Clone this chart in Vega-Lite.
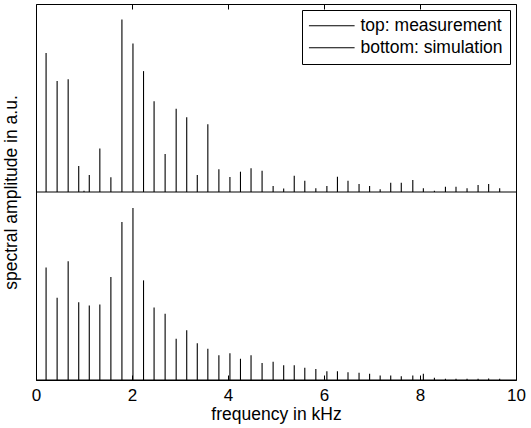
{
  "$schema": "https://vega.github.io/schema/vega-lite/v6.json",
  "width": 480,
  "height": 376,
  "autosize": {"type": "none"},
  "padding": {"left": 36, "top": 4, "right": 15, "bottom": 48},
  "background": "white",
  "config": {
    "view": {"stroke": "black", "strokeWidth": 1},
    "font": "Liberation Sans",
    "axis": {"grid": false, "domain": false, "tickColor": "black", "labelColor": "black", "titleColor": "black", "titleFontWeight": "normal"}
  },
  "datasets": {
    "spec": [
      {"s": "top", "f": 0.21, "v": 1.740, "b": 1},
      {"s": "top", "f": 0.44, "v": 1.590, "b": 1},
      {"s": "top", "f": 0.67, "v": 1.600, "b": 1},
      {"s": "top", "f": 0.89, "v": 1.138, "b": 1},
      {"s": "top", "f": 1.00, "v": 1.007, "b": 1},
      {"s": "top", "f": 1.11, "v": 1.090, "b": 1},
      {"s": "top", "f": 1.33, "v": 1.232, "b": 1},
      {"s": "top", "f": 1.56, "v": 1.078, "b": 1},
      {"s": "top", "f": 1.79, "v": 1.917, "b": 1},
      {"s": "top", "f": 2.02, "v": 1.790, "b": 1},
      {"s": "top", "f": 2.24, "v": 1.643, "b": 1},
      {"s": "top", "f": 2.46, "v": 1.483, "b": 1},
      {"s": "top", "f": 2.69, "v": 1.202, "b": 1},
      {"s": "top", "f": 2.92, "v": 1.443, "b": 1},
      {"s": "top", "f": 3.14, "v": 1.397, "b": 1},
      {"s": "top", "f": 3.36, "v": 1.090, "b": 1},
      {"s": "top", "f": 3.58, "v": 1.361, "b": 1},
      {"s": "top", "f": 3.81, "v": 1.121, "b": 1},
      {"s": "top", "f": 4.04, "v": 1.080, "b": 1},
      {"s": "top", "f": 4.26, "v": 1.108, "b": 1},
      {"s": "top", "f": 4.48, "v": 1.126, "b": 1},
      {"s": "top", "f": 4.71, "v": 1.113, "b": 1},
      {"s": "top", "f": 4.94, "v": 1.032, "b": 1},
      {"s": "top", "f": 5.16, "v": 1.018, "b": 1},
      {"s": "top", "f": 5.38, "v": 1.087, "b": 1},
      {"s": "top", "f": 5.60, "v": 1.060, "b": 1},
      {"s": "top", "f": 5.83, "v": 1.020, "b": 1},
      {"s": "top", "f": 6.06, "v": 1.032, "b": 1},
      {"s": "top", "f": 6.28, "v": 1.081, "b": 1},
      {"s": "top", "f": 6.50, "v": 1.060, "b": 1},
      {"s": "top", "f": 6.73, "v": 1.042, "b": 1},
      {"s": "top", "f": 6.95, "v": 1.032, "b": 1},
      {"s": "top", "f": 7.17, "v": 1.014, "b": 1},
      {"s": "top", "f": 7.39, "v": 1.049, "b": 1},
      {"s": "top", "f": 7.61, "v": 1.049, "b": 1},
      {"s": "top", "f": 7.85, "v": 1.064, "b": 1},
      {"s": "top", "f": 8.07, "v": 1.020, "b": 1},
      {"s": "top", "f": 8.30, "v": 1.007, "b": 1},
      {"s": "top", "f": 8.53, "v": 1.028, "b": 1},
      {"s": "top", "f": 8.75, "v": 1.028, "b": 1},
      {"s": "top", "f": 8.98, "v": 1.020, "b": 1},
      {"s": "top", "f": 9.21, "v": 1.037, "b": 1},
      {"s": "top", "f": 9.43, "v": 1.042, "b": 1},
      {"s": "top", "f": 9.66, "v": 1.020, "b": 1},
      {"s": "bottom", "f": 0.21, "v": 0.599, "b": 0},
      {"s": "bottom", "f": 0.44, "v": 0.437, "b": 0},
      {"s": "bottom", "f": 0.67, "v": 0.631, "b": 0},
      {"s": "bottom", "f": 0.89, "v": 0.413, "b": 0},
      {"s": "bottom", "f": 1.11, "v": 0.396, "b": 0},
      {"s": "bottom", "f": 1.33, "v": 0.401, "b": 0},
      {"s": "bottom", "f": 1.56, "v": 0.548, "b": 0},
      {"s": "bottom", "f": 1.79, "v": 0.840, "b": 0},
      {"s": "bottom", "f": 2.02, "v": 0.915, "b": 0},
      {"s": "bottom", "f": 2.24, "v": 0.530, "b": 0},
      {"s": "bottom", "f": 2.46, "v": 0.385, "b": 0},
      {"s": "bottom", "f": 2.69, "v": 0.353, "b": 0},
      {"s": "bottom", "f": 2.92, "v": 0.219, "b": 0},
      {"s": "bottom", "f": 3.14, "v": 0.265, "b": 0},
      {"s": "bottom", "f": 3.36, "v": 0.195, "b": 0},
      {"s": "bottom", "f": 3.58, "v": 0.166, "b": 0},
      {"s": "bottom", "f": 3.81, "v": 0.132, "b": 0},
      {"s": "bottom", "f": 4.04, "v": 0.142, "b": 0},
      {"s": "bottom", "f": 4.26, "v": 0.113, "b": 0},
      {"s": "bottom", "f": 4.48, "v": 0.132, "b": 0},
      {"s": "bottom", "f": 4.71, "v": 0.091, "b": 0},
      {"s": "bottom", "f": 4.94, "v": 0.097, "b": 0},
      {"s": "bottom", "f": 5.16, "v": 0.079, "b": 0},
      {"s": "bottom", "f": 5.38, "v": 0.079, "b": 0},
      {"s": "bottom", "f": 5.60, "v": 0.065, "b": 0},
      {"s": "bottom", "f": 5.83, "v": 0.059, "b": 0},
      {"s": "bottom", "f": 6.06, "v": 0.047, "b": 0},
      {"s": "bottom", "f": 6.28, "v": 0.047, "b": 0},
      {"s": "bottom", "f": 6.50, "v": 0.041, "b": 0},
      {"s": "bottom", "f": 6.73, "v": 0.038, "b": 0},
      {"s": "bottom", "f": 6.95, "v": 0.033, "b": 0},
      {"s": "bottom", "f": 7.17, "v": 0.024, "b": 0},
      {"s": "bottom", "f": 7.39, "v": 0.024, "b": 0},
      {"s": "bottom", "f": 7.61, "v": 0.020, "b": 0},
      {"s": "bottom", "f": 7.85, "v": 0.024, "b": 0},
      {"s": "bottom", "f": 8.07, "v": 0.033, "b": 0},
      {"s": "bottom", "f": 8.30, "v": 0.012, "b": 0},
      {"s": "bottom", "f": 8.53, "v": 0.006, "b": 0},
      {"s": "bottom", "f": 8.75, "v": 0.006, "b": 0},
      {"s": "bottom", "f": 8.98, "v": 0.006, "b": 0},
      {"s": "bottom", "f": 9.21, "v": 0.006, "b": 0},
      {"s": "bottom", "f": 9.43, "v": 0.008, "b": 0},
      {"s": "bottom", "f": 9.66, "v": 0.006, "b": 0}
    ]
  },
  "resolve": {"axis": {"x": "independent"}},
  "layer": [
    {
      "data": {"name": "spec"},
      "transform": [{"aggregate": [{"op": "count", "as": "n"}], "groupby": ["s", "b"]}],
      "mark": {"type": "rule", "strokeWidth": 1},
      "encoding": {
        "x": {"datum": 0, "type": "quantitative", "scale": {"domain": [0, 10], "nice": false},
              "axis": {"orient": "top", "values": [0, 2, 4, 6, 8, 10], "labels": false, "tickSize": -5, "title": null}},
        "x2": {"datum": 10},
        "y": {"field": "b", "type": "quantitative"},
        "color": {"field": "s", "type": "nominal"}
      }
    },
    {
      "data": {"name": "spec"},
      "mark": {"type": "rule", "strokeWidth": 1.1},
      "encoding": {
        "x": {"field": "f", "type": "quantitative", "scale": {"domain": [0, 10], "nice": false},
              "axis": {"orient": "bottom", "values": [0, 2, 4, 6, 8, 10], "tickSize": -5, "labelPadding": 12, "labelFlush": false, "labelOverlap": false,
                       "labelFontSize": 17, "title": "frequency in kHz", "titleFontSize": 17.5, "titlePadding": 2}},
        "y": {"field": "v", "type": "quantitative", "scale": {"domain": [0, 2], "nice": false},
              "axis": {"ticks": false, "labels": false, "title": "spectral amplitude in a.u.", "titleFontSize": 17.5, "titlePadding": 16}},
        "y2": {"field": "b"},
        "color": {"field": "s", "type": "nominal", "scale": {"domain": ["top", "bottom"], "range": ["black", "black"]},
                  "legend": {"title": null, "orient": "top-right", "offset": 6, "padding": 7, "strokeColor": "black", "fillColor": "white", "cornerRadius": 0,
                             "symbolType": "M-1.76,0H7.37", "symbolSize": 100, "symbolStrokeWidth": 1, "symbolFillColor": "transparent",
                             "labelFontSize": 17.5, "labelOffset": 34, "rowPadding": 3,
                             "labelExpr": "datum.label == 'top' ? 'top: measurement' : 'bottom: simulation'"}}
      }
    }
  ]
}
